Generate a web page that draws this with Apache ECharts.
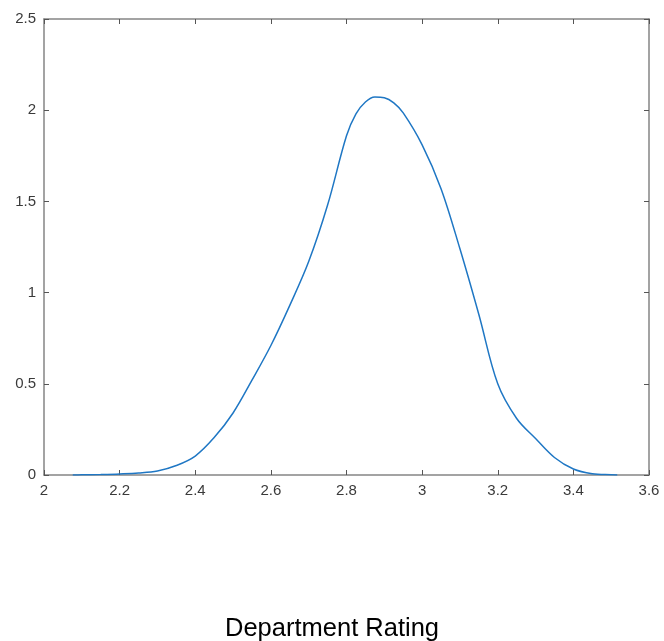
<!DOCTYPE html>
<html>
<head>
<meta charset="utf-8">
<script src="https://cdn.jsdelivr.net/npm/echarts@6/dist/echarts.min.js"></script>
<style>
  html, body { margin: 0; padding: 0; background: #fff; }
  #densityChart { width: 664px; height: 641px; }
</style>
</head>
<body>
<div id="densityChart"></div>
<script>
// density curve
var ratingX = [2.076, 2.1, 2.15, 2.2, 2.25, 2.3, 2.35, 2.4, 2.45, 2.5, 2.55, 2.6, 2.65, 2.7, 2.75, 2.8, 2.825, 2.85, 2.875, 2.9, 2.925, 2.95, 3.0, 3.05, 3.1, 3.15, 3.2, 3.25, 3.3, 3.35, 3.4, 3.45, 3.5, 3.516];
var densityY = [0, 0.001, 0.003, 0.006, 0.011, 0.022, 0.052, 0.104, 0.205, 0.34, 0.52, 0.71, 0.93, 1.17, 1.48, 1.86, 1.98, 2.045, 2.072, 2.068, 2.04, 1.985, 1.81, 1.57, 1.24, 0.88, 0.50, 0.31, 0.20, 0.096, 0.033, 0.007, 0.001, 0];
var xTicks = [2, 2.2, 2.4, 2.6, 2.8, 3, 3.2, 3.4, 3.6];
var yTicks = [0, 0.5, 1, 1.5, 2, 2.5];
var xLabel = "Department Rating";

var chart = echarts.init(document.getElementById("densityChart"));

var points = ratingX.map(function (x, i) { return [x, densityY[i]]; });

var boxLine = { show: true, onZero: false, lineStyle: { color: "#858585", width: 1.5 } };
var boxTick = { show: true, inside: true, length: 5, lineStyle: { color: "#555", width: 1 } };
var tickText = { color: "#3a3a3a", fontSize: 15, fontFamily: "Liberation Sans, Arial, sans-serif" };

var option = {
  animation: false,
  title: {
    text: xLabel,
    left: "center",
    top: 611,
    textStyle: { color: "#000", fontSize: 25.5, fontWeight: "normal", fontFamily: "Liberation Sans, Arial, sans-serif" }
  },
  grid: { left: 44, top: 19, right: 15, bottom: 166 },
  xAxis: [
    {
      type: "value",
      position: "bottom",
      min: 2,
      max: 3.6,
      interval: 0.2,
      axisLine: boxLine,
      axisTick: boxTick,
      splitLine: { show: false },
      axisLabel: Object.assign({ margin: 8, formatter: function (v) { return +v.toFixed(1) + ""; } }, tickText)
    },
    {
      type: "value",
      position: "top",
      min: 2,
      max: 3.6,
      interval: 0.2,
      axisLine: boxLine,
      axisTick: boxTick,
      splitLine: { show: false },
      axisLabel: { show: false }
    }
  ],
  yAxis: [
    {
      type: "value",
      position: "left",
      min: 0,
      max: 2.5,
      interval: 0.5,
      axisLine: boxLine,
      axisTick: boxTick,
      splitLine: { show: false },
      axisLabel: Object.assign({ margin: 8 }, tickText)
    },
    {
      type: "value",
      position: "right",
      min: 0,
      max: 2.5,
      interval: 0.5,
      axisLine: boxLine,
      axisTick: boxTick,
      splitLine: { show: false },
      axisLabel: { show: false }
    }
  ],
  series: [
    {
      type: "line",
      data: points,
      smooth: 0.35,
      showSymbol: false,
      lineStyle: { color: "#1f77c4", width: 1.5 }
    }
  ]
};
chart.setOption(option);
</script>
</body>
</html>
